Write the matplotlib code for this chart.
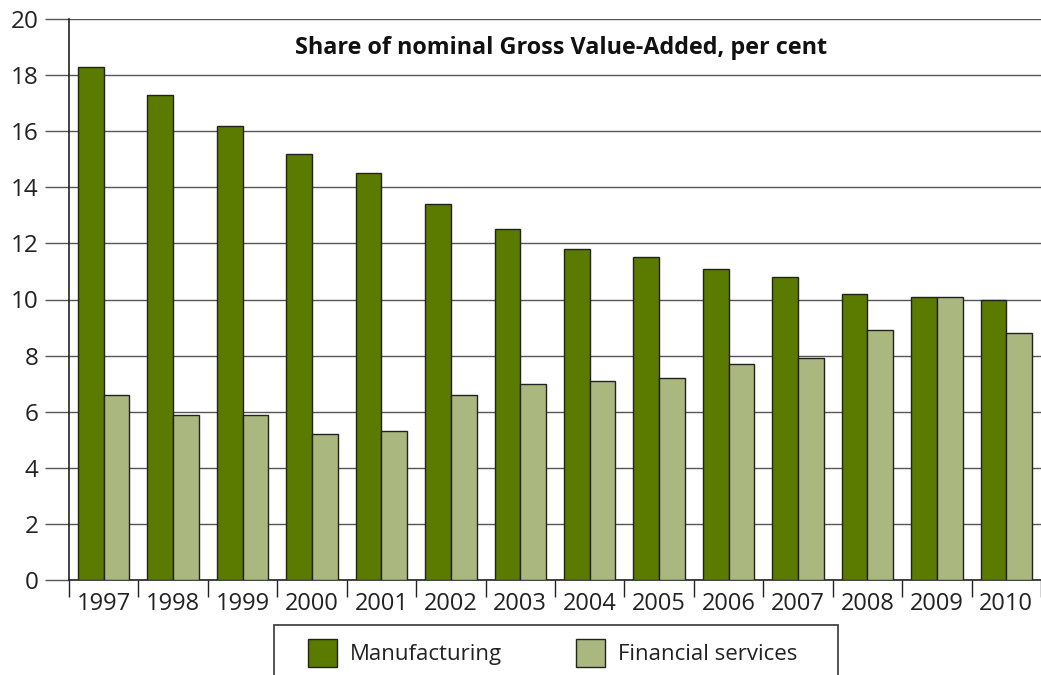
import numpy as np
import matplotlib
matplotlib.use("Agg")
import matplotlib.pyplot as plt
from matplotlib.patches import Rectangle

plt.rcParams["font.family"] = ["Open Sans", "DejaVu Sans"]

years = ["1997", "1998", "1999", "2000", "2001", "2002", "2003",
         "2004", "2005", "2006", "2007", "2008", "2009", "2010"]
manufacturing = [18.3, 17.3, 16.2, 15.2, 14.5, 13.4, 12.5,
                 11.8, 11.5, 11.1, 10.8, 10.2, 10.1, 10.0]
financial = [6.6, 5.9, 5.9, 5.2, 5.3, 6.6, 7.0,
             7.1, 7.2, 7.7, 7.9, 8.9, 10.1, 8.8]

W, H = 1041, 675
fig = plt.figure(figsize=(W / 100, H / 100), dpi=100)
ax = fig.add_axes([69 / W, 1 - 580 / H, (W - 69) / W, (580 - 19) / H])

x = np.arange(len(years)) + 0.5
bw = 0.37
ax.bar(x - bw / 2, manufacturing, bw, color="#5a7a00", edgecolor="#222222",
       linewidth=1.0, label="Manufacturing", zorder=3)
ax.bar(x + bw / 2, financial, bw, color="#aab87f", edgecolor="#222222",
       linewidth=1.0, label="Financial services", zorder=3)

ax.set_xlim(0, (W - 69) / 69.7)
ax.set_ylim(0, 20)
ax.set_yticks(range(0, 21, 2))
ax.yaxis.grid(True, color="#555555", linewidth=1.0, zorder=0)
ax.tick_params(axis="y", direction="out", length=17, width=1.0,
               color="#555555", labelsize=17.5, pad=5, labelcolor="#222222")

ax.set_xticks(x)
ax.set_xticklabels(years)
ax.tick_params(axis="x", which="major", length=0, labelsize=17, pad=9,
               labelcolor="#222222")
ax.set_xticks(np.arange(len(years) + 1), minor=True)
ax.tick_params(axis="x", which="minor", direction="out", length=12,
               width=1.0, color="#222222")

for s in ["top", "right"]:
    ax.spines[s].set_visible(False)
ax.spines["left"].set_color("#222222")
ax.spines["bottom"].set_color("#222222")
ax.spines["left"].set_linewidth(1.2)
ax.spines["bottom"].set_linewidth(1.2)
ax.set_axisbelow(True)

fig.text(561 / W, 1 - 48 / H, "Share of nominal Gross Value-Added, per cent",
         ha="center", va="center", fontsize=16.8, fontweight="bold",
         color="#111111")

# legend box, bottom runs off the figure
box = Rectangle((274 / W, 1 - 685 / H), (838 - 274) / W, 60 / H,
                transform=fig.transFigure, facecolor="white",
                edgecolor="#444444", linewidth=1.3, clip_on=False)
fig.patches.append(box)

leg = fig.legend(loc="center left", bbox_to_anchor=(308 / W, 1 - 653 / H),
                 bbox_transform=fig.transFigure, ncol=2, fontsize=16,
                 frameon=False, borderaxespad=0, borderpad=0,
                 handlelength=1.3, handleheight=1.6,
                 handletextpad=0.6, columnspacing=3.3)
for t in leg.get_texts():
    t.set_color("#222222")

fig.savefig("out.png", dpi=100)
